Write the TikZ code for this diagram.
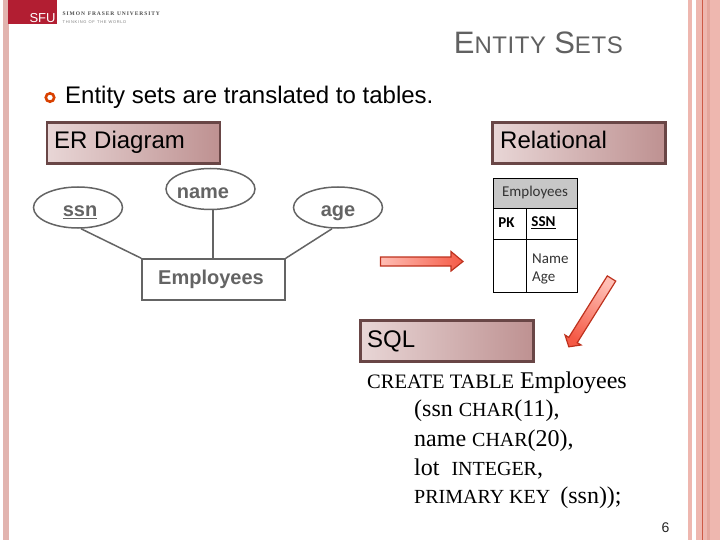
\documentclass[tikz,border=0pt]{standalone}
\usepackage{fontspec}
\setmainfont{Liberation Sans}
\newfontfamily\serifx{Liberation Serif}
\newfontfamily\tablefont{Carlito}
\usetikzlibrary{shapes.geometric,shapes.arrows}
\definecolor{stripe}{RGB}{238,183,175}
\definecolor{stripeb}{RGB}{228,166,156}
\definecolor{stripel}{RGB}{226,180,175}
\definecolor{stripedk}{RGB}{205,90,70}
\definecolor{sfu}{RGB}{178,30,50}
\definecolor{boxedge}{RGB}{105,70,70}
\definecolor{boxl}{RGB}{232,214,214}
\definecolor{boxr}{RGB}{190,145,145}
\definecolor{erg}{RGB}{100,100,100}
\definecolor{arrowedge}{RGB}{190,50,30}
\definecolor{arrowl}{RGB}{255,190,180}
\definecolor{arrowr}{RGB}{245,90,70}
\tikzset{
  x=1pt,y=-1pt,
  header/.style={left color=boxl,right color=boxr,minimum height=41pt,anchor=north west,inner sep=0pt,outer sep=0pt},
  headedge/.style={draw=boxedge,line width=2.1pt},
  headtext/.style={anchor=base west,inner sep=0pt,font=\fontsize{24}{24}\selectfont},
  attr/.style={ellipse,draw=erg,line width=1.5pt,minimum width=89pt,minimum height=41pt,inner sep=0pt},
  attrtext/.style={anchor=base,inner sep=0pt,text=erg,font=\fontsize{20}{20}\selectfont\bfseries},
  entity/.style={draw=erg,line width=1.5pt,minimum width=143pt,minimum height=41pt,inner sep=0pt},
  link/.style={draw=erg,line width=1.5pt},
  sqltext/.style={anchor=base west,inner sep=0pt,font=\serifx\fontsize{24}{24}\selectfont},
  tline/.style={draw=black,line width=0.8pt},
  tlabel/.style={inner sep=0pt,text=black!80,font=\tablefont\fontsize{15}{15}\selectfont},
  tbold/.style={inner sep=0pt,text=black,font=\tablefont\fontsize{15}{15}\selectfont\bfseries},
  bigarrow/.style={draw=arrowedge,line width=1.2pt},
}
\newcommand{\sm}[1]{{\fontsize{20}{20}\selectfont #1}}
\begin{document}
\begin{tikzpicture}
\useasboundingbox (0,0) rectangle (720,540);
\fill[white] (0,0) rectangle (720,540);
% stripes
\fill[stripel] (3,0) rectangle (9,540);
\fill[stripe] (688,0) rectangle (692,540);
\fill[stripe] (696,0) rectangle (720,540);
\fill[stripeb] (707,0) rectangle (710,540);
\draw[stripedk,line width=0.8pt] (702.5,0) -- (702.5,540);
% logo
\fill[sfu] (8,0) rectangle (57,24);
\node[anchor=base,inner sep=0pt,text=white,font=\fontsize{13}{13}\selectfont] (logo) at (42.5,22.5) {SFU};
\node[anchor=base west,inner sep=0pt,align=left,font=\fontsize{4}{7.5}\selectfont] (uni) at (62.5,23.5) {%
{\serifx\fontsize{5.5}{7.5}\selectfont\bfseries\color{black!70} S\,I\,M\,O\,N\ \ F\,R\,A\,S\,E\,R\ \ U\,N\,I\,V\,E\,R\,S\,I\,T\,Y}\\
{\color{black!50} T\,H\,I\,N\,K\,I\,N\,G\ \ O\,F\ \ T\,H\,E\ \ W\,O\,R\,L\,D\,\,}};
% title
\node[anchor=base east,inner sep=0pt,text=black!62] (title) at (623,54) {\addfontfeature{LetterSpace=2.5}{\fontsize{31}{31}\selectfont E}{\fontsize{24}{24}\selectfont NTITY\,\,}{\fontsize{31}{31}\selectfont S}{\fontsize{24}{24}\selectfont ETS}};
% bullet
\draw[line width=2.6pt,draw=orange!60!red!85!black,fill=white] (50,97.5) circle (4.2);
\node[anchor=base west,inner sep=0pt,font=\fontsize{24}{24}\selectfont] (bul) at (65,104) {Entity sets are translated to tables.};
% headers
\node[header,minimum width=173pt] (er) at (47,122.5) {};
\draw[headedge] (er.north west) rectangle (er.south east);
\node[headtext] (ertext) at (54,149) {ER Diagram};
\node[header,minimum width=173pt] (rel) at (492.5,122.5) {};
\draw[headedge] (rel.north west) rectangle (rel.south east);
\node[headtext] (reltext) at (500,149) {Relational};
\node[header,minimum width=173pt] (sql) at (360.5,320.5) {};
\draw[headedge] (sql.north west) rectangle (sql.south east);
\node[headtext] (sqltext) at (367,347) {SQL};
% ER
\node[attr] (ssn) at (78,207.5) {};
\node[attrtext] (ssnt) at (80,217) {\underline{ssn}};
\node[attr] (name) at (210.5,189) {};
\node[attrtext] (namet) at (203,199) {name};
\node[attr] (age) at (338,207.5) {};
\node[attrtext] (aget) at (338,217) {age};
\node[entity] (emp) at (213.5,279.5) {};
\node[attrtext] (empt) at (211,284) {Employees};
\draw[link] (ssn.south) ++(3,0) coordinate (a1) -- (emp.north west);
\draw[link] (name.south) ++(2.5,0) coordinate (a2) -- (a2 |- emp.north);
\draw[link] (age.south) ++(-6,0) coordinate (a3) -- (emp.north east);
% arrows
\shade[bigarrow,left color=arrowl,right color=arrowr] (380.5,257) -- (451,257) -- (451,251.5) -- (463,261.5) -- (451,271) -- (451,266) -- (380.5,266) -- cycle;
\shade[bigarrow,top color=arrowl,bottom color=arrowr,shading angle=-32] (607.3,275.9) -- (615.7,281.1) -- (577.2,342.7) -- (581,345) -- (568.8,346.8) -- (565,335) -- (568.8,337.4) -- cycle;
% relational table
\fill[black!22] (493.5,178) rectangle (577.5,208.5);
\draw[tline] (493.5,178) rectangle (577.5,292);
\draw[tline] (493.5,208.5) -- (577.5,208.5);
\draw[tline] (493.5,239.5) -- (577.5,239.5);
\draw[tline] (526.5,208.5) -- (526.5,292);
\node[tlabel] (t0) at (535,193) {Employees};
\node[tbold] (t1) at (506.5,223) {PK};
\node[tbold] (t2) at (543.5,223) {\underline{SSN}};
\node[tlabel,anchor=base west] (t3) at (532,263) {Name};
\node[tlabel,anchor=base west] (t4) at (532,281) {Age};
% SQL
\node[sqltext] (s1) at (367,388) {{\fontsize{20.5}{20.5}\selectfont CREATE TABLE} Employees};
\node[sqltext] (s2) at (414,416.5) {(ssn \sm{CHAR}(11),};
\node[sqltext] (s3) at (414,446) {name \sm{CHAR}(20),};
\node[sqltext] (s4) at (414,475) {lot\ \ \sm{INTEGER},};
\node[sqltext] (s5) at (414,503.5) {\sm{PRIMARY KEY}\ \,(ssn));};
% page
\node[anchor=base,inner sep=0pt,text=black!85,font=\fontsize{14}{14}\selectfont] (pg) at (665.5,532) {6};
\end{tikzpicture}
\end{document}
